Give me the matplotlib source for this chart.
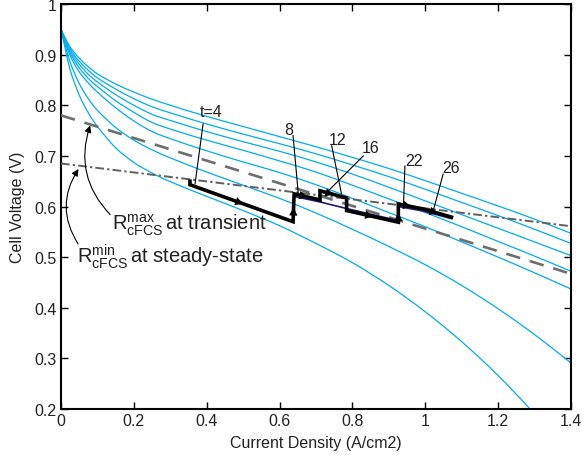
import matplotlib
matplotlib.use('Agg')
import matplotlib.pyplot as plt
from matplotlib.path import Path
from matplotlib.patches import PathPatch

plt.rcParams['font.family'] = ['Liberation Sans', 'DejaVu Sans']
plt.rcParams['mathtext.fontset'] = 'custom'
plt.rcParams['mathtext.rm'] = 'Liberation Sans'
plt.rcParams['mathtext.it'] = 'Liberation Sans:italic'

# polarization curves, one per operating condition
current = [0, 0.01, 0.025, 0.05, 0.075, 0.1, 0.15, 0.2, 0.25, 0.3, 0.4, 0.5,
           0.6, 0.7, 0.8, 0.9, 1.0, 1.1, 1.2, 1.3, 1.4]
v1 = [0.950, 0.935, 0.915, 0.893, 0.876, 0.862, 0.842, 0.826, 0.812, 0.800, 0.778,
      0.758, 0.738, 0.718, 0.697, 0.675, 0.651, 0.626, 0.601, 0.575, 0.547]
v2 = [0.950, 0.933, 0.911, 0.887, 0.869, 0.854, 0.832, 0.813, 0.797, 0.785, 0.763,
      0.743, 0.724, 0.704, 0.682, 0.659, 0.634, 0.608, 0.582, 0.555, 0.527]
v3 = [0.950, 0.931, 0.907, 0.881, 0.861, 0.846, 0.821, 0.800, 0.782, 0.770, 0.748,
      0.728, 0.709, 0.688, 0.664, 0.638, 0.611, 0.584, 0.557, 0.530, 0.503]
v4 = [0.950, 0.929, 0.903, 0.874, 0.853, 0.837, 0.809, 0.786, 0.766, 0.753, 0.731,
      0.711, 0.690, 0.668, 0.642, 0.615, 0.588, 0.560, 0.531, 0.502, 0.472]
v5 = [0.950, 0.927, 0.898, 0.866, 0.844, 0.826, 0.795, 0.769, 0.748, 0.734, 0.710,
      0.688, 0.667, 0.643, 0.616, 0.588, 0.560, 0.530, 0.500, 0.469, 0.437]
v6 = [0.950, 0.923, 0.885, 0.843, 0.813, 0.790, 0.756, 0.731, 0.712, 0.696, 0.668,
      0.642, 0.616, 0.587, 0.555, 0.521, 0.485, 0.444, 0.398, 0.347, 0.291]
v7 = [0.950, 0.917, 0.870, 0.820, 0.785, 0.758, 0.716, 0.687, 0.666, 0.649, 0.620,
      0.592, 0.562, 0.527, 0.489, 0.444, 0.392, 0.333, 0.266, 0.190, 0.105]
curves = [v1, v2, v3, v4, v5, v6, v7]

# load lines (end points)
rmax_x = [0, 1.4]
rmax_y = [0.780, 0.467]
rmin_x = [0, 1.4]
rmin_y = [0.685, 0.561]

# transient operating trajectory
path_x = [0.354, 0.354, 0.637, 0.640, 0.711, 0.711, 0.784, 0.784, 0.926, 0.926, 0.995, 1.072]
path_y = [0.650, 0.643, 0.570, 0.625, 0.613, 0.631, 0.617, 0.592, 0.569, 0.605, 0.595, 0.579]
arrow_segs = [1, 2, 3, 5, 7, 8, 9, 10]
ref_x = [0.640, 0.711, 0.784, 0.926, 0.926, 0.995, 1.072]
ref_y = [0.620, 0.609, 0.596, 0.572, 0.600, 0.591, 0.576]

# time labels: text position, end of the leader line
t_labels = ['t=4', '8', '12', '16', '22', '26']
t_text_x = [0.412, 0.626, 0.760, 0.851, 0.969, 1.071]
t_text_y = [0.787, 0.753, 0.733, 0.716, 0.690, 0.678]
t_from_x = [0.390, 0.637, 0.743, 0.830, 0.944, 1.049]
t_from_y = [0.763, 0.740, 0.720, 0.700, 0.680, 0.664]
t_to_x = [0.368, 0.651, 0.770, 0.734, 0.940, 1.022]
t_to_y = [0.645, 0.628, 0.625, 0.631, 0.598, 0.592]

xticks = [0, 0.2, 0.4, 0.6, 0.8, 1.0, 1.2, 1.4]
xticklabels = ['0', '0.2', '0.4', '0.6', '0.8', '1', '1.2', '1.4']
yticks = [0.2, 0.3, 0.4, 0.5, 0.6, 0.7, 0.8, 0.9, 1.0]
yticklabels = ['0.2', '0.3', '0.4', '0.5', '0.6', '0.7', '0.8', '0.9', '1']

txt = '#222222'


def smooth_curve(xs, ys):
    # cubic Hermite segments through the points, drawn as a Bezier path
    n = len(xs)
    slopes = []
    for i in range(n):
        a, b = max(i - 1, 0), min(i + 1, n - 1)
        slopes.append((ys[b] - ys[a]) / (xs[b] - xs[a]))
    verts = [(xs[0], ys[0])]
    codes = [Path.MOVETO]
    for i in range(n - 1):
        h = (xs[i + 1] - xs[i]) / 3
        verts += [(xs[i] + h, ys[i] + h * slopes[i]),
                  (xs[i + 1] - h, ys[i + 1] - h * slopes[i + 1]),
                  (xs[i + 1], ys[i + 1])]
        codes += [Path.CURVE4] * 3
    return Path(verts, codes)


fig = plt.figure(figsize=(5.82, 4.56), dpi=100)
ax = fig.add_axes([61 / 582, 1 - 410 / 456, 510 / 582, 405 / 456])

for v in curves:
    ax.add_patch(PathPatch(smooth_curve(current, v), facecolor='none',
                           edgecolor='#00AEEF', lw=0.9, zorder=2))

ax.plot(rmax_x, rmax_y, color='#6e6e6e', lw=1.9, dashes=(5.5, 3.8), zorder=3)
ax.plot(rmin_x, rmin_y, color='#606060', lw=1.4, dashes=(4.5, 1.6, 1.2, 1.6), zorder=3)

ax.plot(ref_x, ref_y, color='#1c1c6e', lw=1.2, zorder=4)
ax.plot(path_x, path_y, color='black', lw=2.6, solid_joinstyle='miter', zorder=5)
for i in arrow_segs:
    x0, y0, x1, y1 = path_x[i], path_y[i], path_x[i + 1], path_y[i + 1]
    xm, ym = (x0 + x1) / 2, (y0 + y1) / 2
    ax.annotate('', xy=(xm + (x1 - x0) * 0.02, ym + (y1 - y0) * 0.02), xytext=(xm, ym),
                arrowprops=dict(arrowstyle='-|>', color='black', lw=0,
                                mutation_scale=15, shrinkA=0, shrinkB=0), zorder=6)

for lab, tx, ty, fx, fy, ex, ey in zip(t_labels, t_text_x, t_text_y,
                                       t_from_x, t_from_y, t_to_x, t_to_y):
    ax.plot([fx, ex], [fy, ey], color='black', lw=0.8, zorder=6)
    ax.text(tx, ty, lab, fontsize=11.5, color=txt, ha='center', va='center')

ax.text(0.140, 0.556, r'$\mathrm{R}^{\mathrm{max}}_{\mathrm{cFCS}}\,$at transient',
        fontsize=14.5, color=txt, va='baseline')
ax.text(0.044, 0.490, r'$\mathrm{R}^{\mathrm{min}}_{\mathrm{cFCS}}\,$at steady-state',
        fontsize=14.5, color=txt, va='baseline')
ax.annotate('', xy=(0.080, 0.760), xytext=(0.135, 0.584),
            arrowprops=dict(arrowstyle='-|>', color='black', lw=0.8,
                            mutation_scale=10, shrinkA=0, shrinkB=0,
                            connectionstyle='arc3,rad=-0.3'))
ax.annotate('', xy=(0.048, 0.674), xytext=(0.047, 0.526),
            arrowprops=dict(arrowstyle='-|>', color='black', lw=0.8,
                            mutation_scale=10, shrinkA=0, shrinkB=0,
                            connectionstyle='arc3,rad=-0.32'))

ax.set_xlim(0, 1.4)
ax.set_ylim(0.2, 1.0)
ax.set_xticks(xticks)
ax.set_xticklabels(xticklabels)
ax.set_yticks(yticks)
ax.set_yticklabels(yticklabels)
ax.tick_params(direction='in', length=5, width=1, top=True, right=True,
               labelsize=11.5, labelcolor=txt, pad=3)
for s in ax.spines.values():
    s.set_linewidth(1.5)
ax.set_xlabel('Current Density (A/cm2)', fontsize=11.5, color=txt, labelpad=5)
ax.set_ylabel('Cell Voltage (V)', fontsize=11.5, color=txt, labelpad=7)

fig.savefig('out.png', dpi=100)
